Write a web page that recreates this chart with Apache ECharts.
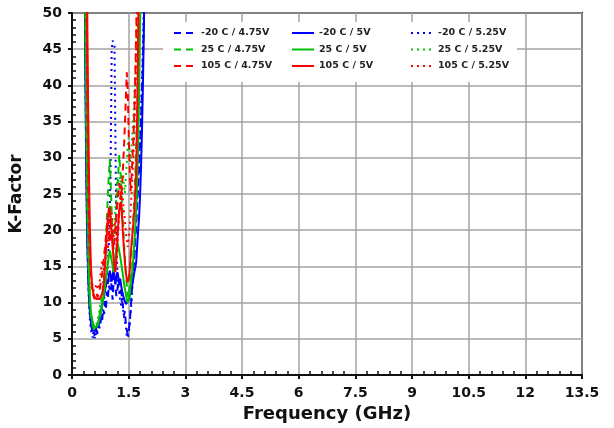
<!DOCTYPE html>
<html>
<head>
<meta charset="utf-8">
<script src="https://cdn.jsdelivr.net/npm/echarts@6/dist/echarts.min.js"></script>
<style>
  html, body { margin: 0; padding: 0; background: #fff; }
  #chart { width: 614px; height: 428px; }
</style>
</head>
<body>
<div id="chart"></div>
<script>
// Frequency sweep points (GHz)
const freq = [
  0.300, 0.325, 0.350, 0.375, 0.400, 0.425, 0.450, 0.475, 0.500, 0.525,
  0.550, 0.575, 0.600, 0.625, 0.650, 0.675, 0.700, 0.725, 0.750, 0.775,
  0.800, 0.825, 0.850, 0.875, 0.900, 0.925, 0.950, 0.975, 1.000, 1.025,
  1.050, 1.075, 1.100, 1.125, 1.150, 1.175, 1.200, 1.225, 1.250, 1.275,
  1.300, 1.325, 1.350, 1.375, 1.400, 1.425, 1.450, 1.475, 1.500, 1.525,
  1.550, 1.575, 1.600, 1.625, 1.650, 1.675, 1.700, 1.725, 1.750, 1.775,
  1.800, 1.825, 1.850, 1.875, 1.900, 1.925, 1.950, 1.975, 2.000];

// K-Factor per temperature / supply corner (values above 50 run off the top of the plot)
const kM20_475 = [
  95, 70, 47, 32, 21, 15.5, 11.2, 8.9, 7.1, 6.4,
  5.6, 6.0, 5.3, 5.9, 6.2, 5.7, 6.6, 7.4, 6.9, 8.2,
  7.6, 9.1, 8.4, 10.2, 9.3, 11.5, 10.6, 12.4, 11.8, 13.6,
  11.9, 10.4, 12.8, 14.1, 12.2, 10.9, 11.6, 13.3, 12.5, 11.2,
  12.1, 10.3, 9.4, 8.2, 8.8, 7.1, 6.3, 5.6, 5.9, 7.4,
  8.8, 10.9, 12.6, 14.8, 16.1, 18.9, 20.4, 23.5, 25.8, 28.2,
  31.6, 34.9, 38.8, 43.1, 48.2, 55, 66, 80, 95];
const kM20_500 = [
  92, 66, 44, 29, 19.5, 14.2, 10.6, 8.5, 7.3, 6.6,
  6.1, 6.3, 5.9, 6.2, 6.6, 6.9, 7.3, 7.9, 8.6, 9.2,
  9.9, 10.4, 11.0, 11.8, 12.3, 13.1, 12.6, 13.8, 14.4, 13.7,
  12.9, 13.8, 14.6, 13.4, 12.6, 13.5, 14.2, 13.6, 12.8, 13.3,
  12.4, 11.6, 11.1, 10.5, 10.2, 9.8, 9.6, 10.1, 10.4, 10.9,
  11.5, 11.9, 12.6, 13.4, 14.2, 14.8, 15.6, 17.8, 19.9, 21.7,
  24.6, 28.3, 33.2, 39.4, 47.0, 56, 68, 82, 95];
const kM20_525 = [
  94, 68, 45, 30, 20, 14.1, 9.8, 7.6, 6.2, 5.6,
  5.2, 5.5, 5.1, 5.8, 5.4, 6.2, 6.9, 6.4, 7.6, 8.3,
  8.9, 9.8, 10.6, 11.7, 12.4, 13.9, 15.8, 18.1, 21.6, 30.2,
  44.8, 46.2, 46.0, 45.4, 32.1, 19.6, 14.3, 12.1, 11.2, 10.4,
  9.6, 10.8, 9.2, 8.1, 7.4, 6.8, 5.4, 5.1, 5.8, 6.9,
  8.5, 10.2, 12.4, 14.3, 16.9, 19.2, 22.4, 24.6, 27.1, 29.6,
  32.8, 36.4, 40.1, 45.3, 51, 60, 72, 86, 96];
const k25_475 = [
  90, 72, 50.5, 36, 25, 17.4, 12.6, 9.8, 8.2, 7.3,
  6.8, 6.4, 6.1, 6.3, 6.6, 6.9, 7.4, 8.1, 8.9, 9.6,
  10.8, 12.1, 13.4, 15.6, 18.2, 21.9, 24.8, 27.6, 29.8, 26.4,
  22.4, 19.8, 18.1, 19.4, 20.6, 22.8, 25.2, 27.9, 30.4, 28.6,
  26.8, 23.4, 21.2, 18.4, 16.3, 14.1, 12.4, 11.2, 10.6, 12.3,
  14.8, 17.1, 19.2, 21.9, 24.5, 27.6, 31.8, 36.4, 42.6, 49.5,
  58, 66, 75, 84, 92, 96, 98, 99, 99];
const k25_500 = [
  88, 74, 55, 40, 28, 19.6, 13.8, 10.6, 8.8, 7.9,
  7.3, 6.9, 6.5, 6.4, 6.6, 6.9, 7.2, 7.8, 8.3, 8.9,
  9.8, 10.5, 11.4, 12.3, 13.5, 14.2, 15.3, 16.4, 17.2, 16.6,
  15.8, 15.1, 14.2, 15.3, 16.5, 17.6, 18.3, 17.8, 17.1, 16.4,
  15.6, 14.6, 13.8, 12.7, 11.9, 11.2, 10.4, 10.0, 9.9, 10.8,
  12.3, 13.4, 14.6, 16.2, 18.2, 20.4, 23.1, 26.8, 31.6, 38.2,
  47.8, 58, 68, 78, 86, 92, 96, 98, 99];
const k25_525 = [
  91, 73, 52, 37, 26, 18.3, 13.1, 10.2, 8.4, 7.5,
  6.9, 6.4, 6.3, 6.7, 7.1, 7.5, 8.2, 8.8, 9.7, 10.5,
  11.6, 12.9, 14.3, 14.9, 15.7, 17.6, 19.8, 21.4, 23.4, 22.2,
  21.1, 20.2, 19.5, 21.1, 22.8, 25.1, 27.3, 26.4, 25.6, 27.4,
  24.6, 26.1, 27.8, 26.2, 25.1, 27.4, 29.3, 31.6, 32.8, 30.9,
  29.4, 31.2, 33.5, 35.8, 38.1, 41.2, 44.9, 50.2, 57, 66,
  76, 86, 94, 97, 98, 99, 99, 99, 99];
const k105_475 = [
  99, 92, 75, 58, 42, 30, 20.5, 16.2, 13.8, 12.3,
  11.2, 10.8, 10.5, 10.9, 11.3, 10.7, 10.9, 11.6, 12.4, 13.1,
  14.1, 15.2, 16.5, 17.8, 19.2, 20.6, 21.6, 19.8, 18.4, 19.6,
  20.9, 19.2, 17.3, 18.5, 19.8, 21.7, 23.6, 25.1, 26.5, 25.3,
  24.2, 26.1, 28.7, 31.4, 34.5, 38.2, 41.8, 39.5, 33.6, 28.9,
  25.4, 27.3, 29.8, 32.6, 36.2, 41.4, 47.5, 55, 65, 75,
  85, 92, 95, 98, 99, 99, 99, 99, 99];
const k105_500 = [
  99, 94, 80, 67, 52, 38, 27.5, 20.1, 15.2, 12.8,
  11.6, 11.1, 10.8, 10.6, 10.5, 10.6, 10.7, 10.5, 10.4, 10.7,
  11.2, 12.0, 13.1, 15.2, 17.4, 19.8, 21.8, 22.9, 23.2, 21.4,
  19.6, 17.7, 16.1, 15.0, 14.2, 16.1, 18.5, 20.8, 22.7, 23.6,
  23.9, 21.8, 19.4, 17.4, 15.6, 14.2, 13.2, 12.8, 12.6, 14.1,
  16.4, 18.1, 19.5, 21.1, 22.8, 25.3, 28.4, 35.6, 46.3, 58,
  70, 82, 90, 95, 98, 99, 99, 99, 99];
const k105_525 = [
  98, 88, 72, 57, 45, 33, 22.4, 17.1, 14.3, 12.9,
  12.1, 11.6, 11.4, 12.2, 12.6, 12.1, 11.8, 12.7, 13.5, 14.8,
  15.9, 15.1, 14.2, 16.4, 18.6, 17.9, 17.3, 19.1, 20.8, 21.9,
  22.5, 20.6, 19.1, 20.2, 21.4, 19.4, 17.8, 19.9, 22.2, 24.5,
  26.4, 25.3, 24.1, 22.6, 21.3, 19.8, 18.6, 17.7, 17.9, 20.1,
  22.3, 24.8, 27.5, 30.4, 33.8, 38.6, 44.2, 52, 62, 74,
  85, 92, 95, 98, 99, 99, 99, 99, 99];

// Axis tick labels
const xTicks = ['0', '1.5', '3', '4.5', '6', '7.5', '9', '10.5', '12', '13.5'];
const yTicks = ['0', '5', '10', '15', '20', '25', '30', '35', '40', '45', '50'];

const BLUE = '#0000ff', GREEN = '#00c000', RED = '#ff0000';
const DASH = [7, 5], DOT = [2, 4];
const FONT = 'DejaVu Sans';

function makeSeries(name, values, color, type) {
  return {
    name: name,
    type: 'line',
    xAxisIndex: 0,
    yAxisIndex: 0,
    data: freq.map((f, i) => [f, values[i]]),
    symbol: 'none',
    clip: true,
    lineStyle: { color: color, width: 2, type: type },
    itemStyle: { color: color },
    emphasis: { disabled: true },
    animation: false
  };
}

const series = [
  makeSeries('-20 C / 4.75V', kM20_475, BLUE, DASH),
  makeSeries('-20 C / 5V', kM20_500, BLUE, 'solid'),
  makeSeries('-20 C / 5.25V', kM20_525, BLUE, DOT),
  makeSeries('25 C / 4.75V', k25_475, GREEN, DASH),
  makeSeries('25 C / 5V', k25_500, GREEN, 'solid'),
  makeSeries('25 C / 5.25V', k25_525, GREEN, DOT),
  makeSeries('105 C / 4.75V', k105_475, RED, DASH),
  makeSeries('105 C / 5V', k105_500, RED, 'solid'),
  makeSeries('105 C / 5.25V', k105_525, RED, DOT)
];

function legendColumn(left, names) {
  return {
    orient: 'vertical',
    left: left,
    top: 28,
    padding: 0,
    itemWidth: 22,
    itemHeight: 12,
    itemGap: 6.5,
    selectedMode: false,
    data: names,
    itemStyle: { opacity: 0 },
    textStyle: { fontFamily: FONT, fontWeight: 'bold', fontSize: 9.5, color: '#222' }
  };
}

const labelStyle = { fontFamily: FONT, fontWeight: 'bold', fontSize: 14, color: '#111' };

const option = {
  backgroundColor: '#ffffff',
  animation: false,
  grid: {
    left: 72, top: 13, right: 32, bottom: 49,
    show: true, borderColor: '#222', borderWidth: 2, backgroundColor: 'transparent'
  },
  legend: [
    legendColumn(173, ['-20 C / 4.75V', '25 C / 4.75V', '105 C / 4.75V']),
    legendColumn(291, ['-20 C / 5V', '25 C / 5V', '105 C / 5V']),
    legendColumn(410, ['-20 C / 5.25V', '25 C / 5.25V', '105 C / 5.25V'])
  ],
  // white panel behind the legend block
  graphic: [{
    type: 'rect',
    z: 1,
    shape: { x: 163, y: 22, width: 354, height: 60 },
    style: { fill: '#ffffff' },
    silent: true
  }],
  xAxis: [{
    type: 'value',
    min: 0, max: 13.5, interval: 1.5,
    position: 'bottom',
    name: 'Frequency (GHz)',
    nameLocation: 'middle',
    nameGap: 30,
    nameTextStyle: { fontFamily: FONT, fontWeight: 'bold', fontSize: 18, color: '#111' },
    axisLine: { show: true, onZero: false, lineStyle: { color: '#111', width: 2 } },
    axisTick: { show: true, inside: true, length: 0, lineStyle: { color: '#111', width: 1.5 } },
    minorTick: { show: true, splitNumber: 5, length: 4, lineStyle: { color: '#111', width: 1.5 } },
    axisLabel: {
      ...labelStyle, margin: 11,
      formatter: (v) => { const i = Math.round(v / 1.5); return xTicks[i] !== undefined ? xTicks[i] : ''; }
    },
    splitLine: { show: true, lineStyle: { color: '#a3a3a3', width: 1.5 } }
  }, {
    type: 'value',
    min: 0, max: 13.5, interval: 1.5,
    position: 'bottom',
    axisLine: { show: false },
    axisTick: { show: true, inside: false, length: 4, lineStyle: { color: '#111', width: 2 } },
    axisLabel: { show: false },
    splitLine: { show: false }
  }],
  yAxis: [{
    type: 'value',
    min: 0, max: 50, interval: 5,
    position: 'left',
    name: 'K-Factor',
    nameLocation: 'middle',
    nameGap: 47,
    nameTextStyle: { fontFamily: FONT, fontWeight: 'bold', fontSize: 17, color: '#111' },
    axisLine: { show: true, onZero: false, lineStyle: { color: '#111', width: 2 } },
    axisTick: { show: true, inside: true, length: 0, lineStyle: { color: '#111', width: 1.5 } },
    minorTick: { show: true, splitNumber: 5, length: 4, lineStyle: { color: '#111', width: 1.5 } },
    axisLabel: {
      ...labelStyle, margin: 10,
      formatter: (v) => { const i = Math.round(v / 5); return yTicks[i] !== undefined ? yTicks[i] : ''; }
    },
    splitLine: { show: true, lineStyle: { color: '#a3a3a3', width: 1.5 } }
  }, {
    type: 'value',
    min: 0, max: 50, interval: 5,
    position: 'left',
    axisLine: { show: false },
    axisTick: { show: true, inside: false, length: 4, lineStyle: { color: '#111', width: 2 } },
    axisLabel: { show: false },
    splitLine: { show: false }
  }],
  series: series
};

const chart = echarts.init(document.getElementById('chart'), null, { renderer: 'canvas' });
chart.setOption(option);
</script>
</body>
</html>
